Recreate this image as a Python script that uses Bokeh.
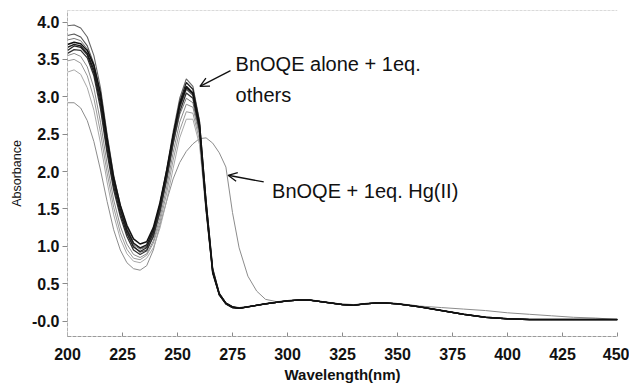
from bokeh.plotting import figure
from bokeh.models import (FixedTicker, PrintfTickFormatter, Label, Arrow, OpenHead,
                          Span, Range1d)
from bokeh.embed import file_html
from bokeh.resources import INLINE

# ---------------- data ----------------
wl_head = [200, 203, 206, 209, 212, 215, 218, 221, 224, 227, 230, 233, 236, 239,
           242, 245, 248, 251, 254, 257, 260, 263, 266, 269, 272, 275, 278]
wl_tail = [282, 286, 290, 295, 300, 305, 310, 315, 320, 325, 330, 335, 340, 345,
           350, 355, 360, 370, 380, 390, 400, 410, 420, 430, 440, 450]

# tail common to the "BnOQE alone + 1eq. others" spectra
others_tail = [0.19, 0.21, 0.23, 0.25, 0.27, 0.28, 0.28, 0.26, 0.24, 0.22, 0.21, 0.23, 0.24, 0.24,
               0.23, 0.21, 0.19, 0.14, 0.09, 0.05, 0.03, 0.02, 0.02, 0.02, 0.02, 0.02]

spec_a = [3.70, 3.73, 3.71, 3.62, 3.42, 3.05, 2.45, 1.92, 1.55, 1.28, 1.10, 1.03, 1.06, 1.25,
          1.58, 2.00, 2.48, 2.90, 3.14, 3.05, 2.62, 1.55, 0.66, 0.36, 0.24, 0.19, 0.17]
spec_b = [3.66, 3.70, 3.68, 3.58, 3.36, 2.96, 2.38, 1.86, 1.50, 1.22, 1.04, 0.98, 1.02, 1.22,
          1.55, 1.98, 2.46, 2.88, 3.12, 3.04, 2.58, 1.50, 0.64, 0.35, 0.23, 0.18, 0.17]
spec_c = [3.62, 3.68, 3.66, 3.56, 3.32, 2.90, 2.30, 1.80, 1.44, 1.17, 0.99, 0.93, 0.98, 1.18,
          1.52, 1.96, 2.47, 2.93, 3.19, 3.10, 2.66, 1.60, 0.70, 0.37, 0.24, 0.19, 0.17]
spec_d = [3.58, 3.63, 3.62, 3.52, 3.28, 2.84, 2.25, 1.75, 1.40, 1.13, 0.95, 0.89, 0.94, 1.13,
          1.46, 1.88, 2.37, 2.80, 3.05, 2.98, 2.55, 1.52, 0.66, 0.35, 0.23, 0.18, 0.17]
spec_e = [3.95, 3.96, 3.92, 3.80, 3.55, 3.12, 2.50, 1.95, 1.55, 1.25, 1.05, 0.97, 1.00, 1.20,
          1.56, 2.02, 2.53, 2.98, 3.24, 3.14, 2.68, 1.62, 0.70, 0.37, 0.24, 0.19, 0.18]
spec_f = [3.82, 3.84, 3.80, 3.68, 3.44, 3.02, 2.42, 1.88, 1.48, 1.19, 1.00, 0.92, 0.95, 1.13,
          1.46, 1.90, 2.40, 2.85, 3.10, 3.02, 2.60, 1.58, 0.68, 0.36, 0.23, 0.18, 0.17]
spec_g = [3.55, 3.58, 3.54, 3.40, 3.12, 2.66, 2.10, 1.62, 1.27, 1.03, 0.89, 0.85, 0.90, 1.07,
          1.38, 1.78, 2.25, 2.66, 2.90, 2.86, 2.48, 1.50, 0.66, 0.35, 0.23, 0.18, 0.17]
spec_h = [3.48, 3.50, 3.45, 3.28, 2.98, 2.52, 1.98, 1.52, 1.18, 0.96, 0.84, 0.82, 0.88, 1.04,
          1.32, 1.70, 2.15, 2.55, 2.80, 2.78, 2.42, 1.48, 0.66, 0.35, 0.23, 0.18, 0.17]
spec_i = [3.33, 3.36, 3.30, 3.12, 2.82, 2.38, 1.86, 1.42, 1.10, 0.90, 0.80, 0.78, 0.84, 0.98,
          1.24, 1.60, 2.04, 2.45, 2.70, 2.70, 2.36, 1.45, 0.64, 0.34, 0.23, 0.18, 0.17]
spec_j = [3.76, 3.78, 3.75, 3.64, 3.40, 2.98, 2.38, 1.85, 1.47, 1.20, 1.02, 0.96, 0.99, 1.16,
          1.48, 1.90, 2.36, 2.76, 2.98, 2.92, 2.52, 1.54, 0.67, 0.36, 0.23, 0.18, 0.17]

# BnOQE + 1eq. Hg(II)
hg_head = [2.92, 2.92, 2.85, 2.68, 2.40, 2.02, 1.60, 1.22, 0.95, 0.78, 0.70, 0.68, 0.74, 0.95,
           1.28, 1.60, 1.90, 2.12, 2.27, 2.37, 2.44, 2.45, 2.38, 2.25, 2.06, 1.45, 0.98]
hg_tail = [0.60, 0.40, 0.29, 0.26, 0.27, 0.28, 0.28, 0.26, 0.24, 0.23, 0.22, 0.23, 0.24, 0.24,
           0.23, 0.22, 0.20, 0.18, 0.16, 0.14, 0.11, 0.09, 0.07, 0.05, 0.04, 0.02]

others = [
    (spec_i, "#a8a8a8", 1.0),
    (spec_h, "#9a9a9a", 1.0),
    (spec_g, "#8a8a8a", 1.0),
    (spec_j, "#777777", 1.0),
    (spec_e, "#666666", 1.1),
    (spec_f, "#555555", 1.1),
    (spec_d, "#333333", 1.3),
    (spec_c, "#222222", 1.3),
    (spec_b, "#1a1a1a", 1.4),
    (spec_a, "#111111", 1.5),
]

x_ticks = [200, 225, 250, 275, 300, 325, 350, 375, 400, 425, 450]
y_ticks = [0.0, 0.5, 1.0, 1.5, 2.0, 2.5, 3.0, 3.5, 4.0]

FONT = "Liberation Sans"

# ---------------- figure ----------------
p = figure(width=629, height=387, output_backend="svg", toolbar_location=None,
           x_range=Range1d(200, 450), y_range=Range1d(-0.207, 4.154),
           min_border_left=67, min_border_right=12, min_border_top=10, min_border_bottom=51)
p.background_fill_color = "white"
p.border_fill_color = "white"
p.outline_line_color = None
p.xgrid.visible = False
p.ygrid.visible = False

wl = wl_head + wl_tail
p.line(wl, hg_head + hg_tail, line_color="#8c8c8c", line_width=1.0)
for ys, col, lw in others:
    p.line(wl, ys + others_tail, line_color=col, line_width=lw)

# top border
p.add_layout(Span(location=4.154, dimension="width", line_color="#b5b5b5",
                  line_width=1, line_dash="3 1"))

# axes
xa = p.xaxis[0]
xa.ticker = FixedTicker(ticks=x_ticks)
xa.axis_label = "Wavelength(nm)"
xa.axis_line_color = "#9a9a9a"
xa.axis_line_dash = "4 1"
xa.major_tick_in = 4
xa.major_tick_out = 0
xa.major_tick_line_color = "#8a8a8a"
xa.minor_tick_line_color = None
xa.major_label_standoff = 11
xa.axis_label_standoff = 3
xa.major_label_text_font = FONT
xa.major_label_text_font_size = "16px"
xa.major_label_text_font_style = "bold"
xa.major_label_text_color = "#111111"
xa.axis_label_text_font = FONT
xa.axis_label_text_font_size = "15px"
xa.axis_label_text_font_style = "bold"
xa.axis_label_text_color = "#111111"

ya = p.yaxis[0]
ya.ticker = FixedTicker(ticks=y_ticks)
ya.formatter = PrintfTickFormatter(format="%.1f")
ya.major_label_overrides = {0: "-0.0"}
ya.axis_label = "Absorbance"
ya.axis_line_color = "#b0b0b0"
ya.axis_line_dash = "4 1"
ya.major_tick_in = 0
ya.major_tick_out = 5
ya.major_tick_line_color = "#8a8a8a"
ya.minor_tick_line_color = None
ya.major_label_standoff = 3
ya.axis_label_standoff = 5
ya.major_label_text_font = FONT
ya.major_label_text_font_size = "16px"
ya.major_label_text_font_style = "bold"
ya.major_label_text_color = "#111111"
ya.axis_label_text_font = FONT
ya.axis_label_text_font_size = "12.5px"
ya.axis_label_text_font_style = "normal"
ya.axis_label_text_color = "#111111"

# annotations
for txt, x, y in [("BnOQE alone + 1eq.", 276.4, 3.445), ("others", 276.4, 3.017),
                  ("BnOQE + 1eq. Hg(II)", 293.0, 1.746)]:
    p.add_layout(Label(x=x, y=y, text=txt, text_font=FONT, text_font_size="20px",
                       text_color="#111111", text_align="left", text_baseline="alphabetic"))

p.add_layout(Arrow(end=OpenHead(size=9, line_width=1.3, line_color="#111111"),
                   x_start=274.1, y_start=3.35, x_end=260.2, y_end=3.14,
                   line_width=1.3, line_color="#111111"))
p.add_layout(Arrow(end=OpenHead(size=9, line_width=1.3, line_color="#111111"),
                   x_start=289.2, y_start=1.86, x_end=273.0, y_end=1.95,
                   line_width=1.3, line_color="#111111"))

open("out.html", "w").write(file_html(p, INLINE))
